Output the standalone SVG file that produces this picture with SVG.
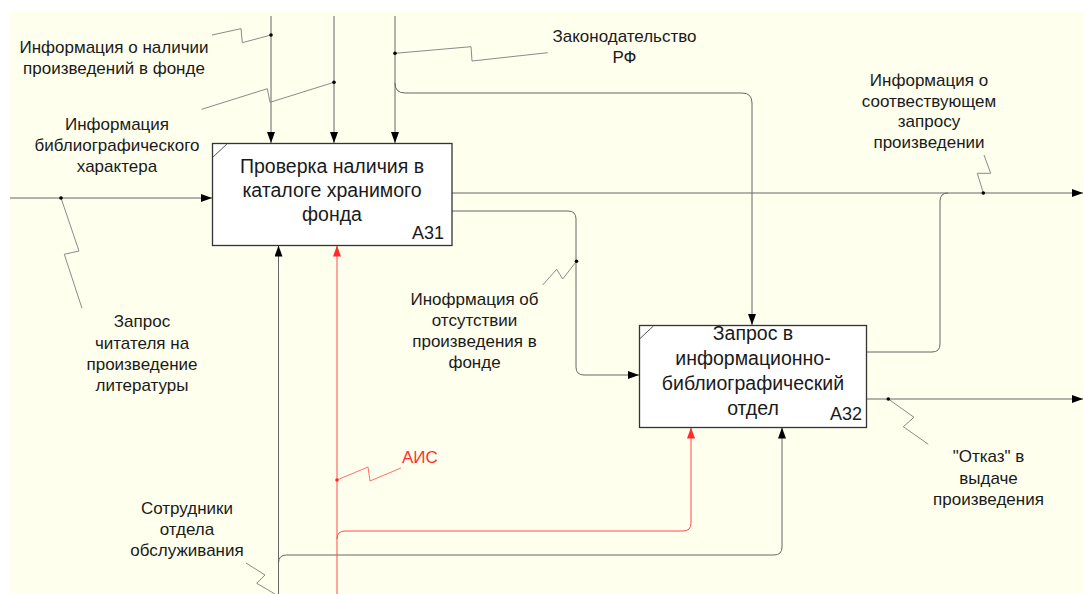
<svg xmlns="http://www.w3.org/2000/svg" width="1084" height="594" viewBox="0 0 1084 594">
<defs>
<style>
text{font-family:"Liberation Sans",Arial,sans-serif;fill:#1a1a1a}
.lbl{font-size:17px;text-anchor:middle}
.box{fill:#fff;stroke:#333;stroke-width:1.3}
.btx{font-size:19.5px;text-anchor:middle}
.num{font-size:18px;text-anchor:end}
.ar{fill:none;stroke:#666;stroke-width:1}
.red{fill:none;stroke:#ff4a4a;stroke-width:1}
.ld{fill:none;stroke:#8a8a8a;stroke-width:1}
.ldr{fill:none;stroke:#ff7070;stroke-width:1}
.dot{fill:#000}
.rdot{fill:#ff2a2a}
</style>
<marker id="ah" viewBox="0 0 11 8" refX="11" refY="4" markerWidth="11" markerHeight="8" markerUnits="userSpaceOnUse" orient="auto">
<path d="M0,0 L11,4 L0,8 z" fill="#000"/>
</marker>
<marker id="ahr" viewBox="0 0 11 8" refX="11" refY="4" markerWidth="11" markerHeight="8" markerUnits="userSpaceOnUse" orient="auto">
<path d="M0,0 L11,4 L0,8 z" fill="#ff2a2a"/>
</marker>
</defs>
<rect x="0" y="0" width="1084" height="594" fill="#ffffff"/>
<rect x="10" y="11" width="1074" height="583" fill="#ffffee"/>

<g id="connectors">
<path class="ar" d="M271,16 V143" marker-end="url(#ah)"/>
<path class="ar" d="M334,16 V143" marker-end="url(#ah)"/>
<path class="ar" d="M395,16 V143" marker-end="url(#ah)"/>
<path class="ar" d="M395,83 Q395,93 405,93 H742 Q752,93 752,103 V325" marker-end="url(#ah)"/>
<path class="ar" d="M10,198 H212" marker-end="url(#ah)"/>
<path class="ar" d="M452,193 H1083" marker-end="url(#ah)"/>
<path class="ar" d="M452,211 H568 Q576,211 576,219 V367 Q576,375 584,375 H639" marker-end="url(#ah)"/>
<path class="ar" d="M867,352 H932 Q940,352 940,344 V201 Q940,193 948,193"/>
<path class="ar" d="M867,399 H1083" marker-end="url(#ah)"/>
<path class="ar" d="M278.5,594 V245.5" marker-end="url(#ah)"/>
<path class="ar" d="M278.5,563 Q278.5,555 286.5,555 H774 Q782,555 782,547 V427.5" marker-end="url(#ah)"/>
<path class="red" d="M337,594 V245.5" marker-end="url(#ahr)"/>
<path class="red" d="M337,539 Q337,531 345,531 H683 Q691,531 691,523 V427.5" marker-end="url(#ahr)"/>

<polyline class="ld" points="212,35 241,28.7 242.3,42.7 271,35"/>
<polyline class="ld" points="201.7,109.3 267.3,88.7 270,102.3 334,82.3"/>
<polyline class="ld" points="395,53.3 471,46.7 472,61 547.7,52.7"/>
<polyline class="ld" points="61,198 79,251 64.3,254.3 82,308.3"/>
<polyline class="ld" points="983.3,193 977.3,173.3 990.7,173.3 984,155"/>
<polyline class="ld" points="576.5,261.3 562.7,279 556.7,269.3 542.7,285"/>
<polyline class="ld" points="888.3,399 914,417.3 903.3,426.7 928.3,444.3"/>
<polyline class="ld" points="246,563 265,575 256.7,583.3 275,594"/>
<polyline class="ldr" points="337,480 368,467 370,481 401,468"/>

<circle class="dot" cx="271" cy="35" r="1.8"/>
<circle class="dot" cx="334" cy="82.3" r="1.8"/>
<circle class="dot" cx="395" cy="53.3" r="1.8"/>
<circle class="dot" cx="61" cy="198" r="1.8"/>
<circle class="dot" cx="983.3" cy="193" r="1.8"/>
<circle class="dot" cx="576.5" cy="261.3" r="1.8"/>
<circle class="dot" cx="888.3" cy="399" r="1.8"/>
<circle class="rdot" cx="337" cy="480" r="1.8"/>
</g>

<g id="A31">
<rect class="box" x="212.5" y="143.5" width="239.5" height="102"/>
<line x1="213" y1="157" x2="227" y2="144" stroke="#555" stroke-width="1"/>
<text class="btx" x="332" y="173">Проверка наличия в</text>
<text class="btx" x="332" y="197">каталоге хранимого</text>
<text class="btx" x="332" y="221">фонда</text>
<text class="num" x="444" y="239">A31</text>
</g>

<g id="A32">
<rect class="box" x="639.5" y="325.5" width="227" height="102"/>
<line x1="640" y1="338.5" x2="653.5" y2="326" stroke="#555" stroke-width="1"/>
<text class="btx" x="753" y="340">Запрос в</text>
<text class="btx" x="753" y="365">информационно-</text>
<text class="btx" x="753" y="390">библиографический</text>
<text class="btx" x="753" y="415">отдел</text>
<text class="num" x="862" y="420">A32</text>
</g>

<g id="label-info-nalichie">
<text class="lbl" x="114" y="53">Информация о наличии</text>
<text class="lbl" x="114" y="74">произведений в фонде</text>
</g>
<g id="label-info-biblio">
<text class="lbl" x="117" y="130">Информация</text>
<text class="lbl" x="117" y="151">библиографического</text>
<text class="lbl" x="117" y="172">характера</text>
</g>
<g id="label-zakon">
<text class="lbl" x="624.5" y="42">Законодательство</text>
<text class="lbl" x="624.5" y="63">РФ</text>
</g>
<g id="label-info-sootv">
<text class="lbl" x="929" y="86">Информация о</text>
<text class="lbl" x="929" y="106.5">соотвествующем</text>
<text class="lbl" x="929" y="127">запросу</text>
<text class="lbl" x="929" y="147.5">произведении</text>
</g>
<g id="label-zapros">
<text class="lbl" x="142" y="327">Запрос</text>
<text class="lbl" x="142" y="348.5">читателя на</text>
<text class="lbl" x="142" y="370">произведение</text>
<text class="lbl" x="142" y="391">литературы</text>
</g>
<g id="label-otsutstvie">
<text class="lbl" x="474.5" y="305">Инофрмация об</text>
<text class="lbl" x="474.5" y="326">отсутствии</text>
<text class="lbl" x="474.5" y="347">произведения в</text>
<text class="lbl" x="474.5" y="368">фонде</text>
</g>
<g id="label-ais">
<text x="402" y="463" style="font-size:17px;fill:#ff3030">АИС</text>
</g>
<g id="label-sotrudniki">
<text class="lbl" x="187" y="514">Сотрудники</text>
<text class="lbl" x="187" y="535">отдела</text>
<text class="lbl" x="187" y="556">обслуживания</text>
</g>
<g id="label-otkaz">
<text class="lbl" x="988.5" y="462">"Отказ" в</text>
<text class="lbl" x="988.5" y="483.5">выдаче</text>
<text class="lbl" x="988.5" y="505">произведения</text>
</g>
</svg>
